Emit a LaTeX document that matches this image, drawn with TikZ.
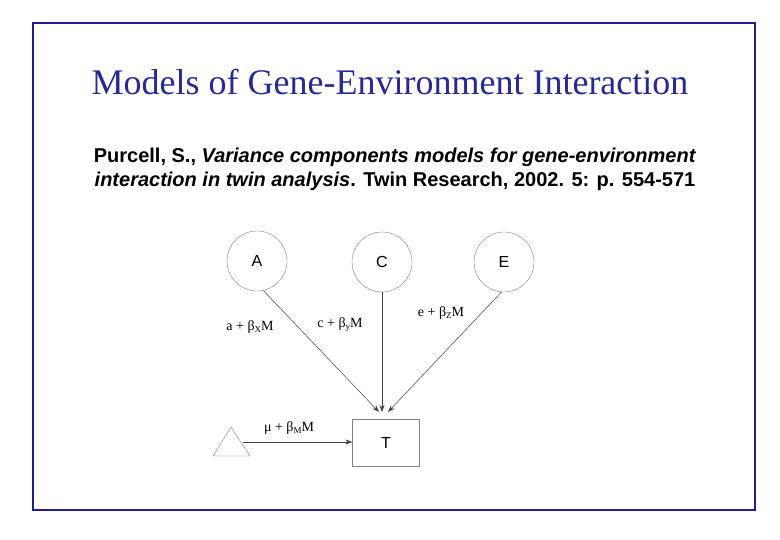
\documentclass[tikz,border=0pt]{standalone}
\usepackage{fontspec}
\setmainfont{Liberation Serif}
\setsansfont{Liberation Sans}
\usetikzlibrary{arrows.meta}
\definecolor{frame}{RGB}{30,30,140}
\definecolor{ttl}{RGB}{40,40,150}
\newcommand{\bsub}[1]{β\raisebox{-0.3ex}{\fontsize{9}{9}\selectfont #1}}
\begin{document}
\begin{tikzpicture}[x=1pt,y=-1pt,
  circ/.style={draw=gray,circle,minimum size=60pt,inner sep=0pt,font=\sffamily\fontsize{16}{16}\selectfont},
  conn/.style={draw=black!75,line width=0.5pt,-{Stealth[length=7pt,width=5pt]}},
  lab/.style={font=\fontsize{14}{14}\selectfont}]
\useasboundingbox (0,0) rectangle (780,540);
\draw[frame,line width=1.5pt] (33,23) rectangle (755,510);
\node[ttl,font=\fontsize{36}{36}\selectfont] (title) at (390,82) {Models of Gene-Environment Interaction};
\node[font=\sffamily\bfseries\fontsize{20}{24}\selectfont,align=center] (cite) at (395,169) {Purcell, S., \textit{Variance components models for gene-environment}\\ \textit{interaction in twin analysis}. Twin Research, 2002. 5: p. 554-571};
\node[circ] (A) at (257,261) {A};
\node[circ] (C) at (382,262) {C};
\node[circ] (E) at (504,262) {E};
\node[draw=gray,minimum width=67pt,minimum height=47pt,inner sep=0pt,font=\sffamily\fontsize{16}{16}\selectfont] (T) at (386,443) {T};
\coordinate (t1) at (213,456); \coordinate (t2) at (250,456); \coordinate (t3) at (231,427);
\draw[gray] (t1)--(t2)--(t3)--cycle;
\coordinate (tri) at (243,442);
\coordinate (Tin1) at (379,412);
\coordinate (Tin2) at (382,412);
\coordinate (Tin3) at (388,412);
\draw[conn] (A.-78) -- (Tin1);
\draw[conn] (C.south) -- (Tin2);
\draw[conn] (E.-95) -- (Tin3);
\draw[conn] (tri) -- (T.west|-tri);
\node[lab] at (250,327) {a + \bsub{X}M};
\node[lab] at (340,325) {c + \bsub{y}M};
\node[lab] at (441,313) {e + \bsub{Z}M};
\node[lab] at (289,428) {μ + \bsub{M}M};
\end{tikzpicture}
\end{document}
